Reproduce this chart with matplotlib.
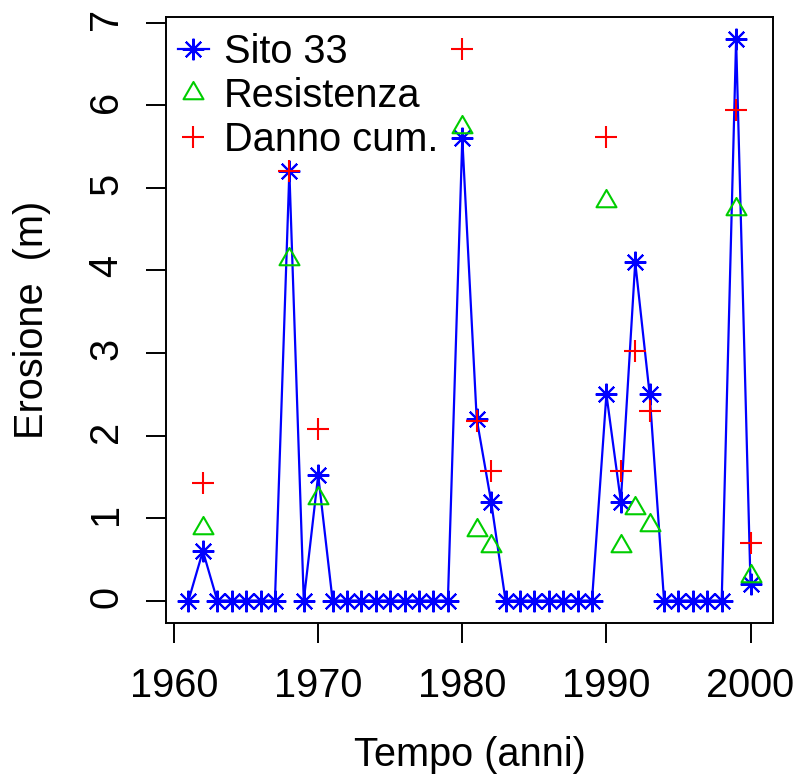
import matplotlib
matplotlib.use("Agg")
import matplotlib.pyplot as plt
import numpy as np
from matplotlib.path import Path

plt.rcParams['font.family'] = ['Liberation Sans', 'DejaVu Sans']

years = list(range(1961, 2001))
sito33 = [0, 0.6, 0, 0, 0, 0, 0, 5.2, 0, 1.52,
          0, 0, 0, 0, 0, 0, 0, 0, 0, 5.6,
          2.2, 1.2, 0, 0, 0, 0, 0, 0, 0, 2.5,
          1.2, 4.1, 2.5, 0, 0, 0, 0, 0, 6.8, 0.2]

event_years = [1962, 1968, 1970, 1980, 1981, 1982, 1990, 1991, 1992, 1993, 1999, 2000]
resistenza = [0.88, 4.14, 1.24, 5.74, 0.86, 0.66, 4.84, 0.66, 1.12, 0.91, 4.75, 0.30]
danno_cum = [1.43, 5.2, 2.08, 6.69, 2.17, 1.57, 5.62, 1.57, 3.02, 2.3, 5.95, 0.7]

labels = ["Sito 33", "Resistenza", "Danno cum."]
xticks = [1960, 1970, 1980, 1990, 2000]
yticks = [0, 1, 2, 3, 4, 5, 6, 7]

DPI = 100
fig = plt.figure(figsize=(7.97, 7.76), dpi=DPI)
ax = fig.add_axes([166/797, (776-623)/776, (773-166)/797, (623-17)/776])

FS = 28.6
tri = Path([(0, 1), (-0.866, -0.5), (0.866, -0.5), (0, 1)],
           [Path.MOVETO, Path.LINETO, Path.LINETO, Path.CLOSEPOLY])

ax.plot(years, sito33, color='#0000FF', lw=1.6, marker=(8, 2, 0), ms=15.5,
        mew=1.5, label=labels[0])
ax.plot(event_years, resistenza, ls='none', marker=tri, ms=16.6, mfc='none',
        mec='#00CD00', mew=1.5, label=labels[1])
ax.plot(event_years, danno_cum, ls='none', marker='+', ms=15.5, mec='#FF0000',
        mew=1.5, label=labels[2])

ax.margins(x=0.04, y=0.04)
ax.set_xticks(xticks)
ax.set_yticks(yticks)
ax.set_xticklabels([str(v) for v in xticks])
ax.set_yticklabels([str(v) for v in yticks])
ax.tick_params(axis='both', length=14.4, width=1.4, labelsize=FS, direction='out')
ax.tick_params(axis='x', pad=17)
ax.tick_params(axis='y', pad=15, labelrotation=90)
for s in ax.spines.values():
    s.set_linewidth(1.4)

ax.set_xlabel("Tempo (anni)", fontsize=FS, va='baseline')
ax.set_ylabel("Erosione  (m)", fontsize=FS, va='baseline')
ax.xaxis.set_label_coords(0.5, (623 - 766) / 606)
ax.yaxis.set_label_coords((43.3 - 166) / 607, 0.5)

leg = ax.legend(loc='upper left', bbox_to_anchor=((178 - 166) / 607, (623 - 33) / 606),
                frameon=False, fontsize=FS, numpoints=1, handlelength=0.77,
                handletextpad=0.39, borderaxespad=0, borderpad=0, labelspacing=0.146)

fig.savefig("out.png", dpi=DPI)
